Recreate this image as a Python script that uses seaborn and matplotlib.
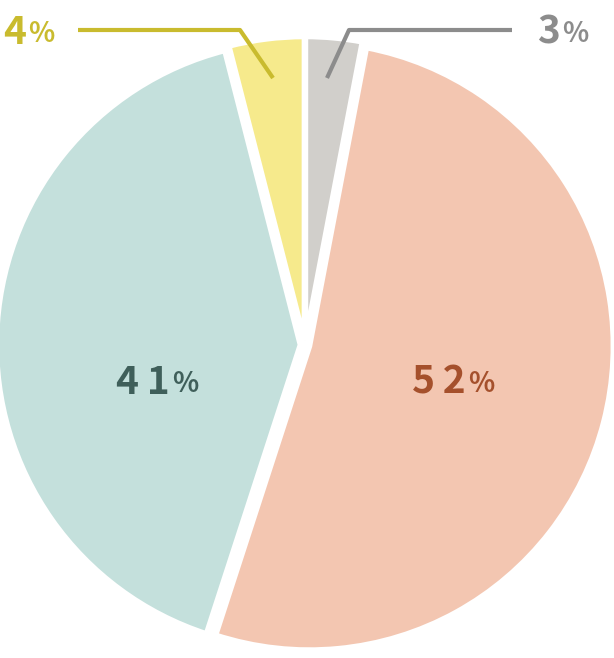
import matplotlib
matplotlib.use("Agg")
import matplotlib.pyplot as plt
import seaborn as sns

sns.set_theme(style="white")
plt.rcParams["font.family"] = ["Noto Sans CJK JP", "DejaVu Sans"]

# data, clockwise from the top
shares = [3, 52, 41, 4]
labels = ["3", "52", "41", "4"]
slice_colors = ["#d1cfcb", "#f3c6b1", "#c4e0dc", "#f6ea8c"]
text_colors = ["#8c8c8c", "#a5502c", "#3f5f5a", "#c9bb2e"]

W, H = 614, 658
S = 307.0
CX, CY = 305, 345


def px(x, y):
    """pixel coords (from top-left) -> data coords"""
    return (x - CX) / S, (CY - y) / S


fig = plt.figure(figsize=(W / 100, H / 100), dpi=100)
ax = fig.add_axes([0, 0, 1, 1])
ax.pie(
    shares,
    colors=slice_colors,
    startangle=90,
    counterclock=False,
    radius=0.99,
    explode=[0.015, 0.015, 0.015, 0.015],
    wedgeprops=dict(edgecolor="white", linewidth=4),
)
ax.set_xlim(px(0, 0)[0], px(W, 0)[0])
ax.set_ylim(px(0, H)[1], px(0, 0)[1])
ax.set_aspect("auto")
ax.axis("off")


def pct(x, y, num, color, size):
    xd, yd = px(x, y)
    spaced = "\u2009".join(num) if len(num) > 1 else num
    ax.text(xd, yd, spaced, color=color, fontsize=size, fontweight="bold",
            ha="right", va="center", family=["DejaVu Sans"] if False else None)
    ax.text(xd + 0.008, yd - 0.005, "%", color=color, fontsize=size * 0.7,
            fontweight="bold", ha="left", va="center")


# leader lines for the small slices
gx, gy = zip(px(327, 78), px(349, 30), px(512, 30))
ax.plot(gx, gy, color=text_colors[0], lw=3, solid_capstyle="butt")
yx, yy = zip(px(273, 78), px(240, 30), px(78, 30))
ax.plot(yx, yy, color=text_colors[3], lw=3, solid_capstyle="butt")

pct(560, 32, labels[0], text_colors[0], 28)
pct(466, 382, labels[1], text_colors[1], 28)
pct(170, 382, labels[2], text_colors[2], 28)
pct(26, 32, labels[3], text_colors[3], 28)

fig.savefig("out.png", dpi=100)
